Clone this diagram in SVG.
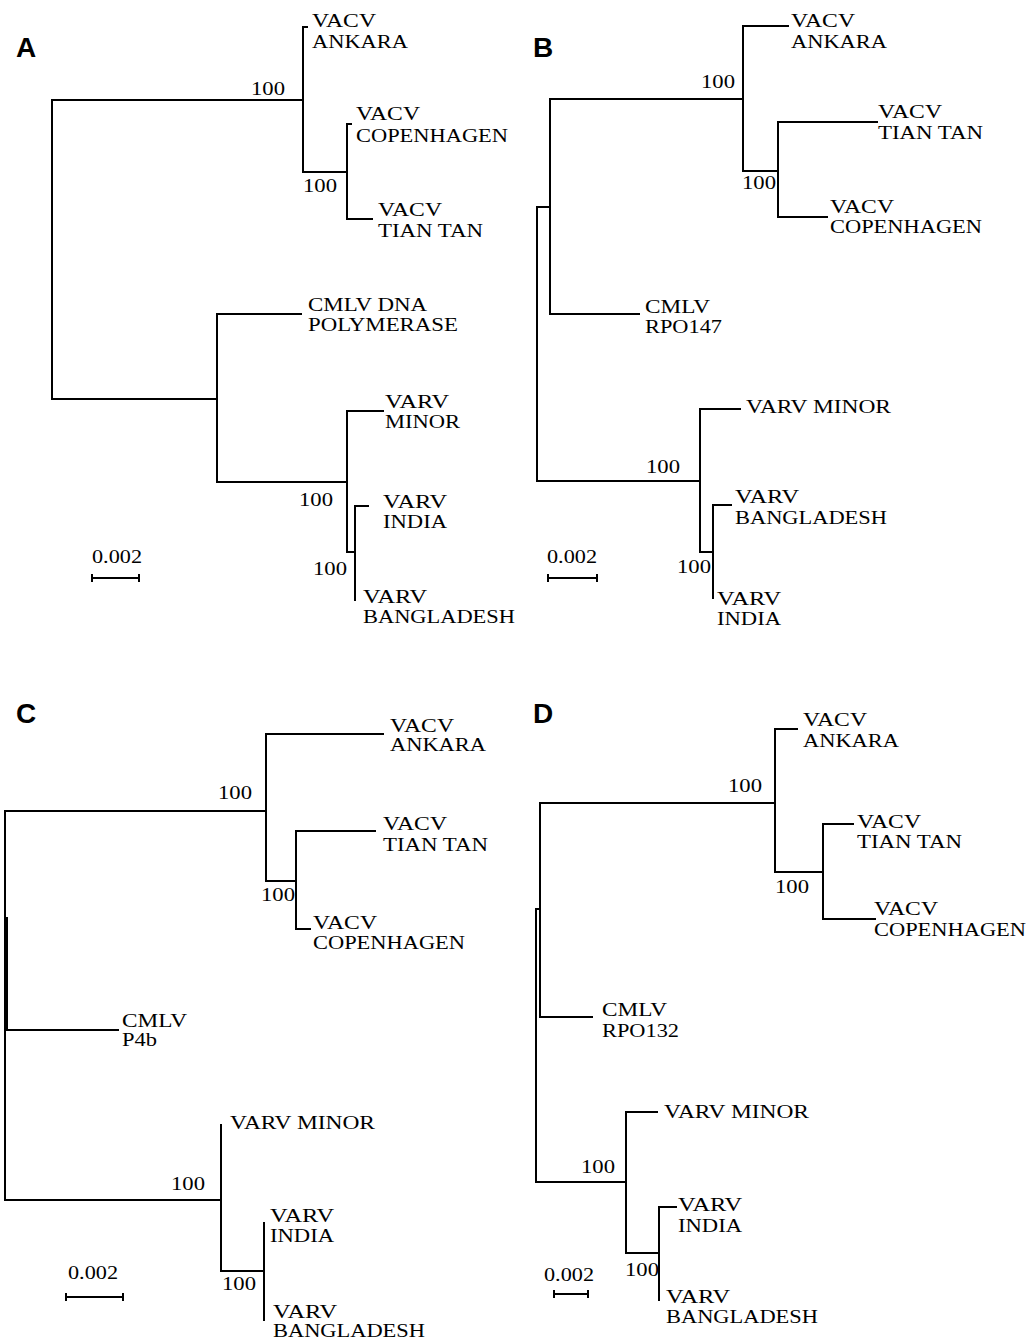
<svg xmlns="http://www.w3.org/2000/svg" width="1029" height="1340" viewBox="0 0 1029 1340">
<style>
.t{font-family:"Liberation Serif","Times New Roman",serif;font-size:18px;fill:#000}
.p{font-family:"Liberation Sans",Arial,sans-serif;font-size:28px;font-weight:bold;fill:#000}
.e{fill:none;stroke:#000;stroke-width:2;stroke-linecap:square}
</style>
<rect width="1029" height="1340" fill="#fff"/>
<g id="connectors">
<g id="conn-A" class="e">
<path d="M52,100V399M52,100H303M303,27V172M303,27H307M303,172H347M347,124V219M347,124H351M347,219H372M52,399H217M217,314V482M217,314H301M217,482H347M347,411V552M347,411H383M347,552H355M355,506V600M355,506H368"/>
<path d="M92,578H139M92,575V581M139,575V581"/>
</g>
<g id="conn-B" class="e">
<path d="M537,207V481M537,207H550M550,99V314M550,314H639M550,99H743M743,26V171M743,26H788M743,171H778M778,122V217M778,122H877M778,217H827M537,481H700M700,409V552M700,409H740M700,552H713M713,505V598M713,505H731"/>
<path d="M548,578H597M548,575V581M597,575V581"/>
</g>
<g id="conn-C" class="e">
<path d="M5,811V1200M7,918V1030M5,811H266M266,734V881M266,734H383M266,881H296M296,831V929M296,831H375M296,929H310M5,1030H118M5,1200H221M221,1125V1271M221,1271H264M264,1223V1320"/>
<path d="M66,1297H123M66,1294V1300M123,1294V1300"/>
</g>
<g id="conn-D" class="e">
<path d="M540,803V1017M540,1017H592M536,909V1182M536,909H540M540,803H775M775,729V872M775,729H797M775,872H823M823,824V919M823,824H853M823,919H875M536,1182H626M626,1112V1253M626,1112H657M626,1253H659M659,1207V1300M659,1207H676"/>
<path d="M554,1294H588M554,1291V1297M588,1291V1297"/>
</g>
</g>

<g id="panel-A">
<text class="p" x="16" y="57">A</text>
<g id="A-ankara"><text class="t" x="312" y="27" textLength="64" lengthAdjust="spacingAndGlyphs">VACV</text><text class="t" x="312" y="48" textLength="96" lengthAdjust="spacingAndGlyphs">ANKARA</text></g>
<g id="A-b1"><text class="t" x="251" y="95" textLength="34" lengthAdjust="spacingAndGlyphs">100</text></g>
<g id="A-copenhagen"><text class="t" x="356" y="120" textLength="64" lengthAdjust="spacingAndGlyphs">VACV</text><text class="t" x="356" y="142" textLength="152" lengthAdjust="spacingAndGlyphs">COPENHAGEN</text></g>
<g id="A-tiantan"><text class="t" x="378" y="216" textLength="64" lengthAdjust="spacingAndGlyphs">VACV</text><text class="t" x="378" y="237" textLength="105" lengthAdjust="spacingAndGlyphs">TIAN TAN</text></g>
<g id="A-b2"><text class="t" x="303" y="192" textLength="34" lengthAdjust="spacingAndGlyphs">100</text></g>
<g id="A-cmlv"><text class="t" x="308" y="311" textLength="119" lengthAdjust="spacingAndGlyphs">CMLV DNA</text><text class="t" x="308" y="331" textLength="150" lengthAdjust="spacingAndGlyphs">POLYMERASE</text></g>
<g id="A-minor"><text class="t" x="385" y="408" textLength="64" lengthAdjust="spacingAndGlyphs">VARV</text><text class="t" x="385" y="428" textLength="75" lengthAdjust="spacingAndGlyphs">MINOR</text></g>
<g id="A-b3"><text class="t" x="299" y="506" textLength="34" lengthAdjust="spacingAndGlyphs">100</text></g>
<g id="A-india"><text class="t" x="383" y="508" textLength="64" lengthAdjust="spacingAndGlyphs">VARV</text><text class="t" x="383" y="528" textLength="64" lengthAdjust="spacingAndGlyphs">INDIA</text></g>
<g id="A-b4"><text class="t" x="313" y="575" textLength="34" lengthAdjust="spacingAndGlyphs">100</text></g>
<g id="A-bangladesh"><text class="t" x="363" y="603" textLength="64" lengthAdjust="spacingAndGlyphs">VARV</text><text class="t" x="363" y="623" textLength="152" lengthAdjust="spacingAndGlyphs">BANGLADESH</text></g>
<g id="A-scale"><text class="t" x="92" y="563" textLength="50" lengthAdjust="spacingAndGlyphs">0.002</text></g>
</g>

<g id="panel-B">
<text class="p" x="533" y="57">B</text>
<g id="B-ankara"><text class="t" x="791" y="27" textLength="64" lengthAdjust="spacingAndGlyphs">VACV</text><text class="t" x="791" y="48" textLength="96" lengthAdjust="spacingAndGlyphs">ANKARA</text></g>
<g id="B-b1"><text class="t" x="701" y="88" textLength="34" lengthAdjust="spacingAndGlyphs">100</text></g>
<g id="B-tiantan"><text class="t" x="878" y="118" textLength="64" lengthAdjust="spacingAndGlyphs">VACV</text><text class="t" x="878" y="139" textLength="105" lengthAdjust="spacingAndGlyphs">TIAN TAN</text></g>
<g id="B-copenhagen"><text class="t" x="830" y="213" textLength="64" lengthAdjust="spacingAndGlyphs">VACV</text><text class="t" x="830" y="233" textLength="152" lengthAdjust="spacingAndGlyphs">COPENHAGEN</text></g>
<g id="B-b2"><text class="t" x="742" y="189" textLength="34" lengthAdjust="spacingAndGlyphs">100</text></g>
<g id="B-cmlv"><text class="t" x="645" y="313" textLength="65" lengthAdjust="spacingAndGlyphs">CMLV</text><text class="t" x="645" y="333" textLength="77" lengthAdjust="spacingAndGlyphs">RPO147</text></g>
<g id="B-minor"><text class="t" x="746" y="413" textLength="145" lengthAdjust="spacingAndGlyphs">VARV MINOR</text></g>
<g id="B-b3"><text class="t" x="646" y="473" textLength="34" lengthAdjust="spacingAndGlyphs">100</text></g>
<g id="B-bangladesh"><text class="t" x="735" y="503" textLength="64" lengthAdjust="spacingAndGlyphs">VARV</text><text class="t" x="735" y="524" textLength="152" lengthAdjust="spacingAndGlyphs">BANGLADESH</text></g>
<g id="B-india"><text class="t" x="717" y="605" textLength="64" lengthAdjust="spacingAndGlyphs">VARV</text><text class="t" x="717" y="625" textLength="64" lengthAdjust="spacingAndGlyphs">INDIA</text></g>
<g id="B-b4"><text class="t" x="677" y="573" textLength="34" lengthAdjust="spacingAndGlyphs">100</text></g>
<g id="B-scale"><text class="t" x="547" y="563" textLength="50" lengthAdjust="spacingAndGlyphs">0.002</text></g>
</g>

<g id="panel-C">
<text class="p" x="16" y="723">C</text>
<g id="C-ankara"><text class="t" x="390" y="732" textLength="64" lengthAdjust="spacingAndGlyphs">VACV</text><text class="t" x="390" y="751" textLength="96" lengthAdjust="spacingAndGlyphs">ANKARA</text></g>
<g id="C-b1"><text class="t" x="218" y="799" textLength="34" lengthAdjust="spacingAndGlyphs">100</text></g>
<g id="C-tiantan"><text class="t" x="383" y="830" textLength="64" lengthAdjust="spacingAndGlyphs">VACV</text><text class="t" x="383" y="851" textLength="105" lengthAdjust="spacingAndGlyphs">TIAN TAN</text></g>
<g id="C-copenhagen"><text class="t" x="313" y="929" textLength="64" lengthAdjust="spacingAndGlyphs">VACV</text><text class="t" x="313" y="949" textLength="152" lengthAdjust="spacingAndGlyphs">COPENHAGEN</text></g>
<g id="C-b2"><text class="t" x="261" y="901" textLength="34" lengthAdjust="spacingAndGlyphs">100</text></g>
<g id="C-cmlv"><text class="t" x="122" y="1027" textLength="65" lengthAdjust="spacingAndGlyphs">CMLV</text><text class="t" x="122" y="1046" textLength="35" lengthAdjust="spacingAndGlyphs">P4b</text></g>
<g id="C-minor"><text class="t" x="230" y="1129" textLength="145" lengthAdjust="spacingAndGlyphs">VARV MINOR</text></g>
<g id="C-b3"><text class="t" x="171" y="1190" textLength="34" lengthAdjust="spacingAndGlyphs">100</text></g>
<g id="C-india"><text class="t" x="270" y="1222" textLength="64" lengthAdjust="spacingAndGlyphs">VARV</text><text class="t" x="270" y="1242" textLength="64" lengthAdjust="spacingAndGlyphs">INDIA</text></g>
<g id="C-bangladesh"><text class="t" x="273" y="1318" textLength="64" lengthAdjust="spacingAndGlyphs">VARV</text><text class="t" x="273" y="1337" textLength="152" lengthAdjust="spacingAndGlyphs">BANGLADESH</text></g>
<g id="C-b4"><text class="t" x="222" y="1290" textLength="34" lengthAdjust="spacingAndGlyphs">100</text></g>
<g id="C-scale"><text class="t" x="68" y="1279" textLength="50" lengthAdjust="spacingAndGlyphs">0.002</text></g>
</g>

<g id="panel-D">
<text class="p" x="533" y="723">D</text>
<g id="D-ankara"><text class="t" x="803" y="726" textLength="64" lengthAdjust="spacingAndGlyphs">VACV</text><text class="t" x="803" y="747" textLength="96" lengthAdjust="spacingAndGlyphs">ANKARA</text></g>
<g id="D-b1"><text class="t" x="728" y="792" textLength="34" lengthAdjust="spacingAndGlyphs">100</text></g>
<g id="D-tiantan"><text class="t" x="857" y="828" textLength="64" lengthAdjust="spacingAndGlyphs">VACV</text><text class="t" x="857" y="848" textLength="105" lengthAdjust="spacingAndGlyphs">TIAN TAN</text></g>
<g id="D-copenhagen"><text class="t" x="874" y="915" textLength="64" lengthAdjust="spacingAndGlyphs">VACV</text><text class="t" x="874" y="936" textLength="152" lengthAdjust="spacingAndGlyphs">COPENHAGEN</text></g>
<g id="D-b2"><text class="t" x="775" y="893" textLength="34" lengthAdjust="spacingAndGlyphs">100</text></g>
<g id="D-cmlv"><text class="t" x="602" y="1016" textLength="65" lengthAdjust="spacingAndGlyphs">CMLV</text><text class="t" x="602" y="1037" textLength="77" lengthAdjust="spacingAndGlyphs">RPO132</text></g>
<g id="D-minor"><text class="t" x="664" y="1118" textLength="145" lengthAdjust="spacingAndGlyphs">VARV MINOR</text></g>
<g id="D-b3"><text class="t" x="581" y="1173" textLength="34" lengthAdjust="spacingAndGlyphs">100</text></g>
<g id="D-india"><text class="t" x="678" y="1211" textLength="64" lengthAdjust="spacingAndGlyphs">VARV</text><text class="t" x="678" y="1232" textLength="64" lengthAdjust="spacingAndGlyphs">INDIA</text></g>
<g id="D-bangladesh"><text class="t" x="666" y="1303" textLength="64" lengthAdjust="spacingAndGlyphs">VARV</text><text class="t" x="666" y="1323" textLength="152" lengthAdjust="spacingAndGlyphs">BANGLADESH</text></g>
<g id="D-b4"><text class="t" x="625" y="1276" textLength="34" lengthAdjust="spacingAndGlyphs">100</text></g>
<g id="D-scale"><text class="t" x="544" y="1281" textLength="50" lengthAdjust="spacingAndGlyphs">0.002</text></g>
</g>
</svg>
